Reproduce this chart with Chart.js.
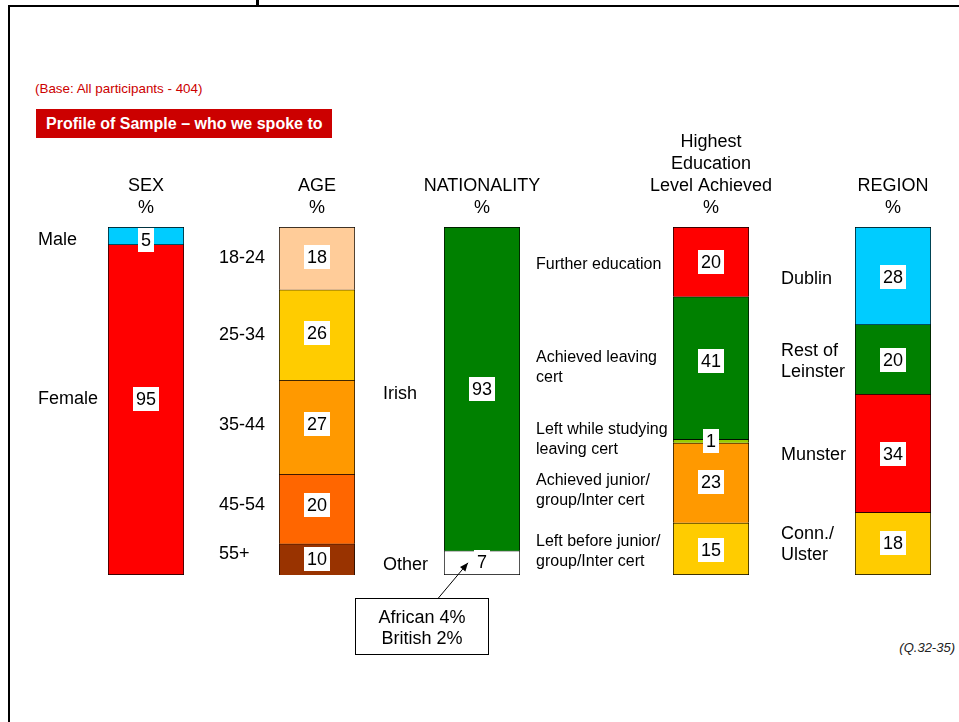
<!DOCTYPE html>
<html>
<head>
<meta charset="utf-8">
<script src="https://cdn.jsdelivr.net/npm/chart.js@4/dist/chart.umd.min.js"></script>
<style>
  body { margin: 0; background: #fff; }
  #page { position: relative; width: 959px; height: 722px; overflow: hidden; font-family: "Liberation Sans", Arial, sans-serif; }
  #page canvas { position: absolute; left: 0; top: 0; }
  .line { position: absolute; background: #000; }
  .base { position: absolute; left: 35px; top: 81px; font-size: 13.4px; color: #cc0000; }
  .banner { position: absolute; left: 36px; top: 109px; width: 296px; height: 29px; background: #cc0000;
            color: #fff; font-weight: bold; font-size: 16px; line-height: 29px; padding-left: 10px; box-sizing: border-box; }
  .qref { position: absolute; right: 4px; top: 640px; font-size: 13px; font-style: italic; color: #222; }
</style>
</head>
<body>
<div id="page">
  <div class="line" style="left:8px;top:5px;width:951px;height:2px"></div>
  <div class="line" style="left:8px;top:5px;width:2px;height:717px"></div>
  <div class="line" style="left:256px;top:0;width:3px;height:5px"></div>
  <div class="base">(Base: All participants - 404)</div>
  <div class="banner">Profile of Sample – who we spoke to</div>
  <div class="qref">(Q.32-35)</div>
  <canvas id="sex" width="959" height="722"></canvas>
  <canvas id="age" width="959" height="722"></canvas>
  <canvas id="nationality" width="959" height="722"></canvas>
  <canvas id="education" width="959" height="722"></canvas>
  <canvas id="region" width="959" height="722"></canvas>
</div>
<script>
// data
var sexTitle = ['SEX', '%'];
var sexLabels = [['Male'], ['Female']];
var sexValues = [5, 95];

var ageTitle = ['AGE', '%'];
var ageLabels = [['18-24'], ['25-34'], ['35-44'], ['45-54'], ['55+']];
var ageValues = [18, 26, 27, 20, 10];

var nationalityTitle = ['NATIONALITY', '%'];
var nationalityLabels = [['Irish'], ['Other']];
var nationalityValues = [93, 7];
var otherBreakdown = ['African 4%', 'British 2%'];

var educationTitle = ['Highest', 'Education', 'Level Achieved', '%'];
var educationLabels = [
  ['Further education'],
  ['Achieved leaving', 'cert'],
  ['Left while studying', 'leaving cert'],
  ['Achieved junior/', 'group/Inter cert'],
  ['Left before junior/', 'group/Inter cert']
];
var educationValues = [20, 41, 1, 23, 15];

var regionTitle = ['REGION', '%'];
var regionLabels = [['Dublin'], ['Rest of', 'Leinster'], ['Munster'], ['Conn./', 'Ulster']];
var regionValues = [28, 20, 34, 18];

// colours
var sexColours = ['#00ccff', '#ff0000'];
var ageColours = ['#ffcc99', '#ffcc00', '#ff9900', '#ff6600', '#993300'];
var nationalityColours = ['#008000', '#ffffff'];
var educationColours = ['#ff0000', '#008000', '#99cc00', '#ff9900', '#ffcc00'];
var regionColours = ['#00ccff', '#008000', '#ff0000', '#ffcc00'];

// layout
var PAGE_W = 959, PAGE_H = 722;
var BAR_TOP = 227, BAR_BOTTOM = 575, BAR_W = 76;
var FONT = '"Liberation Sans", Arial, sans-serif';

var columnText = {
  id: 'columnText',
  afterDatasetsDraw: function (chart, args, opts) {
    var ctx = chart.ctx;
    var area = chart.chartArea;
    var cx = (area.left + area.right) / 2;
    ctx.save();
    ctx.fillStyle = '#000';
    ctx.textBaseline = 'middle';

    // heading above the bar
    ctx.font = '18px ' + FONT;
    ctx.textAlign = 'center';
    var n = opts.title.length;
    opts.title.forEach(function (t, j) {
      ctx.fillText(t, cx, area.top - 19 - (n - 1 - j) * 22);
    });

    chart.data.datasets.forEach(function (ds, i) {
      var el = chart.getDatasetMeta(i).data[0];
      var p = el.getProps(['y', 'base'], true);
      var mid = (p.y + p.base) / 2;

      // category label on the left
      ctx.font = opts.labelFont;
      ctx.textAlign = 'left';
      var lines = opts.labels[i];
      var ly = mid + 1 + (opts.labelShift[i] || 0);
      lines.forEach(function (line, k) {
        ctx.fillText(line, opts.labelX, ly + (k - (lines.length - 1) / 2) * opts.lineHeight);
      });

      // value in a white box
      var txt = String(ds.data[0]);
      ctx.font = '18px ' + FONT;
      var w = ctx.measureText(txt).width + 6;
      var h = 24;
      var vy = mid + (opts.valueShift[i] || 0);
      var top = Math.min(Math.max(vy - h / 2, area.top + 1), area.bottom - 1 - h);
      ctx.fillStyle = '#fff';
      ctx.fillRect(Math.round(cx - w / 2), Math.round(top), Math.round(w), h);
      ctx.fillStyle = '#000';
      ctx.textAlign = 'center';
      ctx.fillText(txt, cx, top + h / 2 + 1);
    });
    ctx.restore();
  }
};

var callout = {
  id: 'callout',
  afterDraw: function (chart, args, opts) {
    if (!opts.lines) return;
    var ctx = chart.ctx;
    var area = chart.chartArea;
    var meta = chart.getDatasetMeta(chart.data.datasets.length - 1);
    var p = meta.data[0].getProps(['y', 'base'], true);
    var tipX = area.left + 24, tipY = (p.y + p.base) / 2;
    var box = { x: 355.5, y: 598.5, w: 133, h: 56 };
    var fromX = 438, fromY = box.y;
    ctx.save();
    ctx.strokeStyle = '#000';
    ctx.fillStyle = '#000';
    ctx.lineWidth = 1;
    ctx.beginPath();
    ctx.moveTo(fromX, fromY);
    ctx.lineTo(tipX, tipY);
    ctx.stroke();
    var ang = Math.atan2(tipY - fromY, tipX - fromX);
    ctx.beginPath();
    ctx.moveTo(tipX, tipY);
    ctx.lineTo(tipX - 9 * Math.cos(ang - 0.4), tipY - 9 * Math.sin(ang - 0.4));
    ctx.lineTo(tipX - 9 * Math.cos(ang + 0.4), tipY - 9 * Math.sin(ang + 0.4));
    ctx.closePath();
    ctx.fill();
    ctx.fillStyle = '#fff';
    ctx.fillRect(box.x, box.y, box.w, box.h);
    ctx.strokeRect(box.x, box.y, box.w, box.h);
    ctx.fillStyle = '#000';
    ctx.font = '18px ' + FONT;
    ctx.textAlign = 'center';
    ctx.textBaseline = 'middle';
    opts.lines.forEach(function (t, k) {
      ctx.fillText(t, box.x + box.w / 2, 618 + k * 21);
    });
    ctx.restore();
  }
};

function buildColumn(id, title, labels, values, colours, layout, extra) {
  var last = values.length - 1;
  var datasets = values.map(function (v, i) {
    return {
      label: labels[i].join(' '),
      data: [v],
      backgroundColor: colours[i],
      borderColor: '#000',
      borderWidth: { top: 1, left: 1, right: 1, bottom: i === last ? 1 : 0 },
      borderSkipped: false,
      barPercentage: 1,
      categoryPercentage: 1
    };
  });
  return new Chart(document.getElementById(id), {
    type: 'bar',
    data: { labels: [title.join(' ')], datasets: datasets },
    options: {
      responsive: false,
      animation: false,
      events: [],
      layout: {
        padding: { left: layout.barLeft, right: PAGE_W - layout.barLeft - BAR_W, top: BAR_TOP, bottom: PAGE_H - BAR_BOTTOM }
      },
      scales: {
        x: { display: false, stacked: true },
        y: { display: false, stacked: true, min: 0, max: 100, reverse: true }
      },
      plugins: {
        legend: { display: false },
        tooltip: { enabled: false },
        columnText: {
          title: title, labels: labels,
          labelX: layout.labelX, labelFont: layout.font, lineHeight: layout.lineHeight,
          labelShift: layout.labelShift || [], valueShift: layout.valueShift || []
        },
        callout: { lines: extra || null }
      }
    },
    plugins: [columnText, callout]
  });
}

var big = '18px ' + FONT;
var small = '16px ' + FONT;
buildColumn('sex', sexTitle, sexLabels, sexValues, sexColours,
  { barLeft: 108, labelX: 38, font: big, lineHeight: 21, labelShift: [3, -12], valueShift: [0, -11] });
buildColumn('age', ageTitle, ageLabels, ageValues, ageColours,
  { barLeft: 279, labelX: 219, font: big, lineHeight: 21, labelShift: [-1, -1, -3, -5, -8], valueShift: [-1, -2, -3, -4, -2] });
buildColumn('nationality', nationalityTitle, nationalityLabels, nationalityValues, nationalityColours,
  { barLeft: 444, labelX: 383, font: big, lineHeight: 21, labelShift: [4, 1] }, otherBreakdown);
buildColumn('education', educationTitle, educationLabels, educationValues, educationColours,
  { barLeft: 673, labelX: 536, font: small, lineHeight: 20, labelShift: [2, -1, -2, 7, 2], valueShift: [0, -7, 0, -1, 1] });
buildColumn('region', regionTitle, regionLabels, regionValues, regionColours,
  { barLeft: 855, labelX: 781, font: big, lineHeight: 21, labelShift: [2, 1, 1, 0], valueShift: [1, 1, 1, -1] });
</script>
</body>
</html>
